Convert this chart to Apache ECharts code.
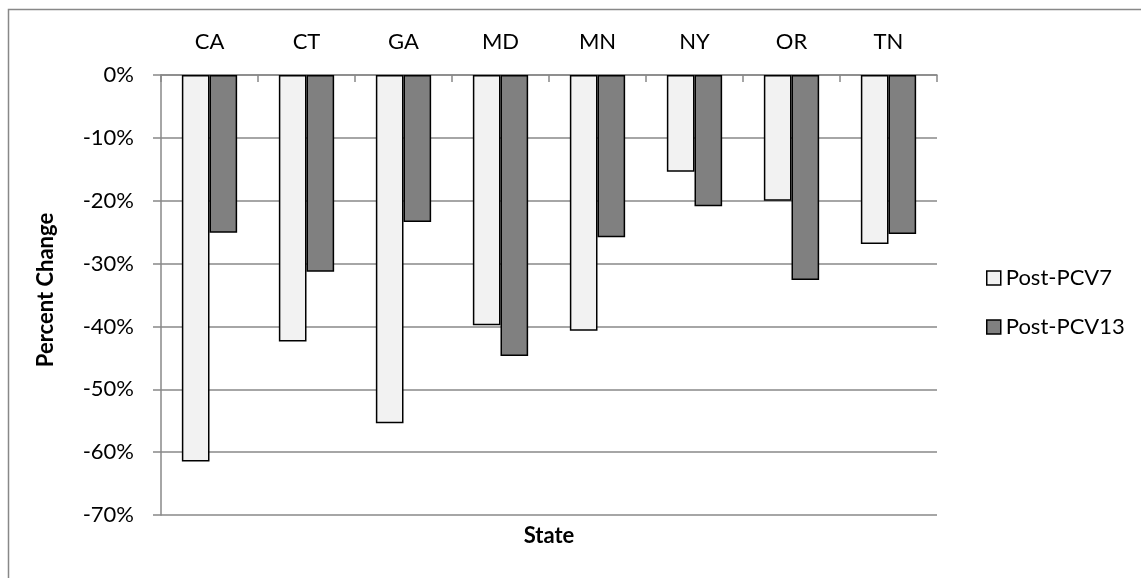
<!DOCTYPE html>
<html>
<head>
<meta charset="utf-8">
<script src="https://cdn.jsdelivr.net/npm/echarts@6/dist/echarts.min.js"></script>
<style>html,body{margin:0;padding:0;background:#fff}#c{width:1141px;height:578px}</style>
</head>
<body>
<div id="c"></div>
<script>
const states = ['CA','CT','GA','MD','MN','NY','OR','TN'];
const postPCV7 = [-61.5,-42.4,-55.4,-39.8,-40.7,-15.4,-20.0,-26.9];
const postPCV13 = [-25.1,-31.3,-23.4,-44.7,-25.8,-20.9,-32.6,-25.3];
const seriesNames = ['Post-PCV7','Post-PCV13'];
const yTicks = {min:-70, max:0, interval:10};

const FONT = 'Lato, "Open Sans", sans-serif';
const FS = 22;
const chart = echarts.init(document.getElementById('c'), null, {renderer:'canvas'});
chart.setOption({
  animation:false,
  backgroundColor:'#fff',
  graphic:[{type:'rect', shape:{x:8.5,y:9.5,width:1200,height:700}, style:{fill:'none',stroke:'#888',lineWidth:1.5}, silent:true}],
  grid:{left:161, top:75, width:776, height:440},
  legend:{
    orient:'vertical', left:981, top:262, itemGap:27, itemWidth:14, itemHeight:14,
    icon:'rect',
    itemStyle:{borderColor:'#000', borderWidth:1.5},
    textStyle:{fontFamily:FONT, fontSize:FS, color:'#000'},
    data:seriesNames
  },
  xAxis:{
    type:'category', data:states, position:'top',
    name:'State', nameLocation:'middle', nameGap:-472,
    nameTextStyle:{fontFamily:FONT, fontSize:FS, fontWeight:'bold', color:'#000'},
    axisLine:{lineStyle:{color:'#888', width:1.5}},
    axisTick:{show:true, inside:true, length:7, lineStyle:{color:'#888', width:1.5}},
    axisLabel:{fontFamily:FONT, fontSize:FS, color:'#000', margin:22},
    splitLine:{show:false}
  },
  yAxis:{
    type:'value', min:yTicks.min, max:yTicks.max, interval:yTicks.interval,
    name:'Percent Change', nameLocation:'middle', nameGap:104, nameRotate:90,
    nameTextStyle:{fontFamily:FONT, fontSize:FS, fontWeight:'bold', color:'#000', padding:[0,0,0,10]},
    axisLine:{show:true, lineStyle:{color:'#888', width:1.5}},
    axisTick:{show:true, length:8, lineStyle:{color:'#888', width:1.5}},
    axisLabel:{fontFamily:FONT, fontSize:FS, color:'#000', margin:27, formatter:v=>v+'%'},
    splitLine:{show:true, lineStyle:{color:'#888', width:1.5}}
  },
  series:[
    {name:seriesNames[0], type:'bar', data:postPCV7, barGap:'0%', barCategoryGap:'43%',
     itemStyle:{color:'#F2F2F2', borderColor:'#000', borderWidth:1.5}},
    {name:seriesNames[1], type:'bar', data:postPCV13, barGap:'0%', barCategoryGap:'43%',
     itemStyle:{color:'#808080', borderColor:'#000', borderWidth:1.5}}
  ]
});
</script>
</body>
</html>
